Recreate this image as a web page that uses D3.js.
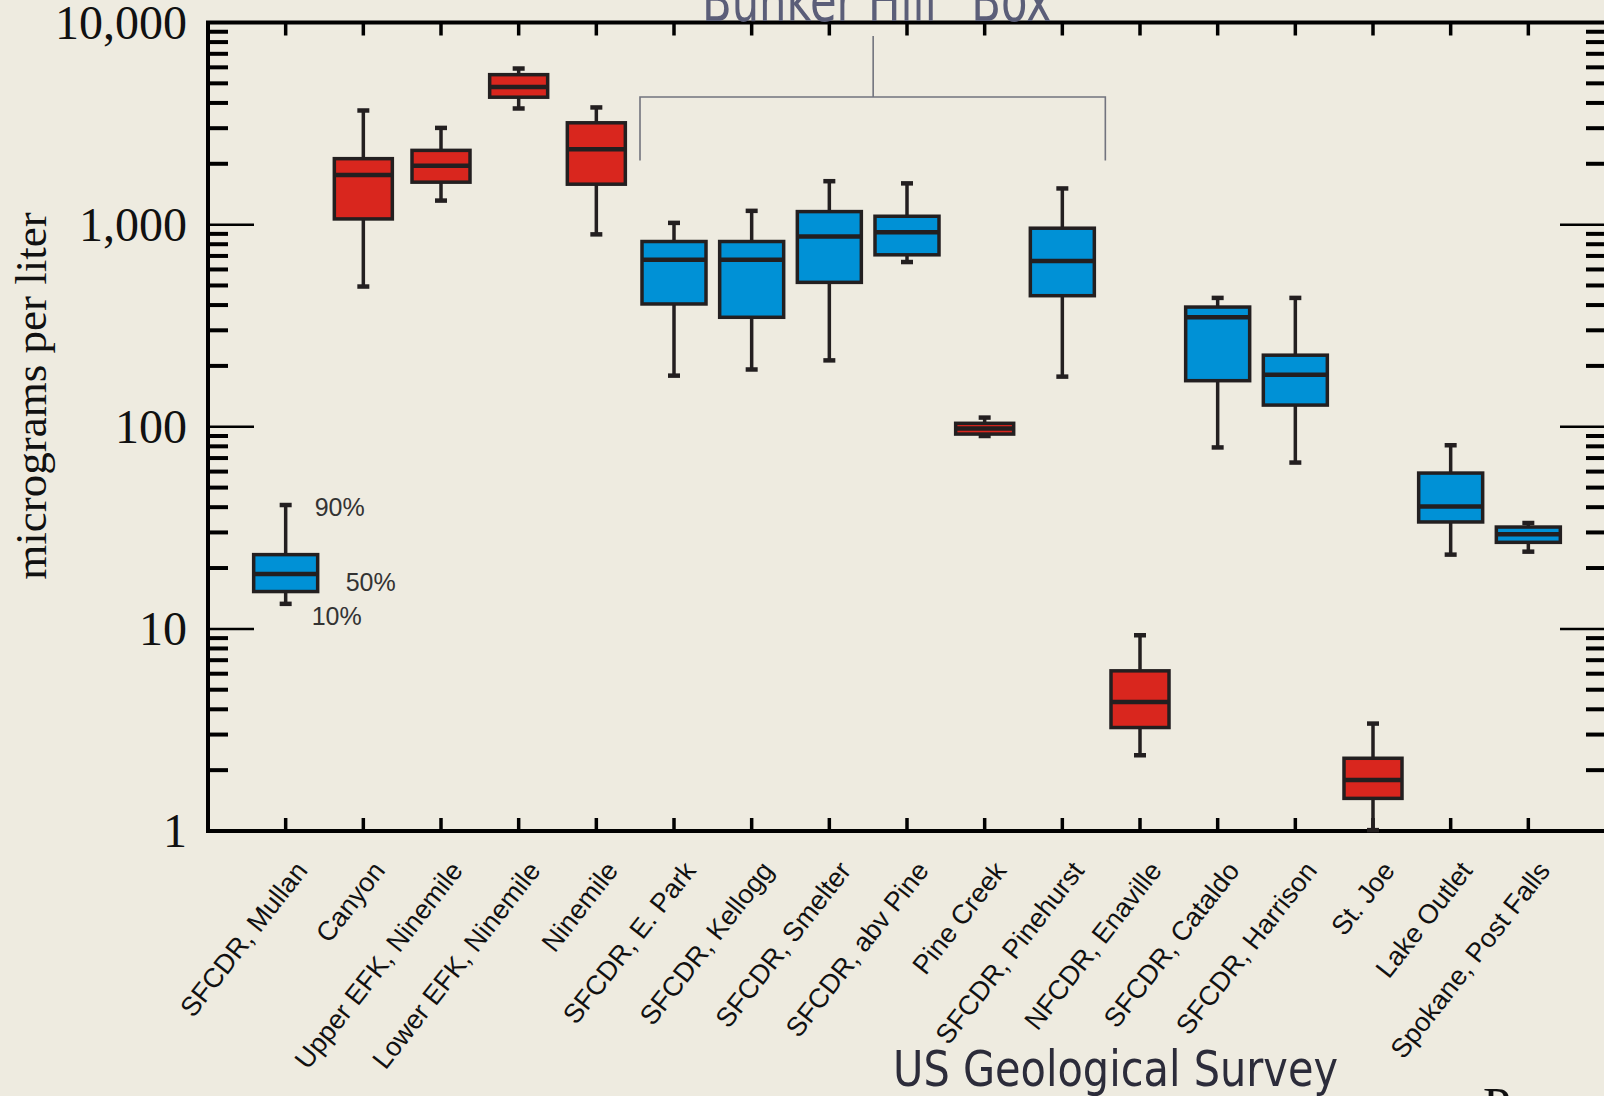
<!DOCTYPE html>
<html>
<head>
<meta charset="utf-8">
<script src="https://cdn.jsdelivr.net/npm/d3@7"></script>
<style>
  html, body { margin: 0; padding: 0; background: #eeebe0; overflow: hidden; }
  svg { display: block; }
</style>
</head>
<body>
<svg id="chart" width="1604" height="1096"></svg>
<script>
// Sampling sites, upstream to downstream
const categories = [
  "SFCDR, Mullan", "Canyon", "Upper EFK, Ninemile", "Lower EFK, Ninemile", "Ninemile",
  "SFCDR, E. Park", "SFCDR, Kellogg", "SFCDR, Smelter", "SFCDR, abv Pine", "Pine Creek",
  "SFCDR, Pinehurst", "NFCDR, Enaville", "SFCDR, Cataldo", "SFCDR, Harrison", "St. Joe",
  "Lake Outlet", "Spokane, Post Falls"
];
// "main" = main-stem river site, "trib" = tributary site
const siteType = ["main", "trib", "trib", "trib", "trib", "main", "main", "main", "main", "trib",
                  "main", "trib", "main", "main", "trib", "main", "main"];

// Percentiles, micrograms per liter
const p90 = [41,   3670, 3010, 5920, 3800, 1020, 1170, 1640, 1600, 111,  1510, 9.3,  434, 434, 3.4,  81,   33.4];
const p75 = [23.3, 2120, 2330, 5520, 3190, 825,  825,  1160, 1100, 104,  960,  6.2,  391, 226, 2.29, 59,   31.9];
const p50 = [18.7, 1760, 1955, 4800, 2360, 670,  670,  874,  916,  98,   661,  4.35, 348, 181, 1.79, 40.3, 29.4];
const p25 = [15.3, 1067, 1622, 4270, 1585, 405,  348,  518,  709,  92,   445,  3.25, 169, 128, 1.45, 33.8, 26.8];
const p10 = [13.3, 494,  1315, 3755, 895,  179,  192,  213,  653,  90,   177,  2.37, 79,  66.5, 1.01, 23.3, 24.1];

const yTickValues = [1, 10, 100, 1000, 10000];
const yTickLabels = ["1", "10", "100", "1,000", "10,000"];

const rows = categories.map((name, i) => ({
  name, type: siteType[i], lo: p10[i], q1: p25[i], med: p50[i], q3: p75[i], hi: p90[i]
}));

const svg = d3.select("#chart");
const W = 1604, H = 1096;
const plotL = 208, plotR = 1606, plotT = 22.5, plotB = 831;

const x = d3.scalePoint().domain(categories).range([plotL, plotR]).padding(1);
const y = d3.scaleLog().domain([1, 10000]).range([plotB, plotT]);

const ink = "#231f20";
const fill = { main: "#0091d6", trib: "#d9261e" };
const boxW = { main: 64, trib: 58 };

svg.append("rect").attr("width", W).attr("height", H).attr("fill", "#eeebe0");

// Minor log ticks (2..9 in each decade) and decade ticks on both vertical axes
const minor = [];
for (let d = 1; d < 10000; d *= 10) for (let k = 2; k <= 9; k++) minor.push(d * k);
const decades = [10, 100, 1000];

const gTicks = svg.append("g");
[{ x0: plotL, dir: 1 }, { x0: plotR, dir: -1 }].forEach(side => {
  gTicks.selectAll(null).data(minor).join("line")
    .attr("x1", side.x0).attr("x2", side.x0 + side.dir * 20)
    .attr("y1", d => y(d)).attr("y2", d => y(d))
    .attr("stroke", "#000").attr("stroke-width", 4);
  gTicks.selectAll(null).data(decades).join("line")
    .attr("x1", side.x0).attr("x2", side.x0 + side.dir * 46)
    .attr("y1", d => y(d)).attr("y2", d => y(d))
    .attr("stroke", "#000").attr("stroke-width", 2.5);
});

// Category ticks on top and bottom axes
gTicks.selectAll(null).data(categories).join("line")
  .attr("x1", d => x(d)).attr("x2", d => x(d))
  .attr("y1", plotB).attr("y2", plotB - 13)
  .attr("stroke", "#000").attr("stroke-width", 3.5);
gTicks.selectAll(null).data(categories).join("line")
  .attr("x1", d => x(d)).attr("x2", d => x(d))
  .attr("y1", plotT).attr("y2", plotT + 13)
  .attr("stroke", "#000").attr("stroke-width", 3.5);

// Frame
svg.append("path")
  .attr("d", `M${plotR + 5},${plotT}H${plotL}V${plotB}H${plotR + 5}`)
  .attr("fill", "none").attr("stroke", "#000").attr("stroke-width", 4);
svg.append("line").attr("x1", plotR).attr("x2", plotR).attr("y1", plotT).attr("y2", plotB)
  .attr("stroke", "#000").attr("stroke-width", 4);

// Y axis labels
const yAxis = d3.axisLeft(y).tickValues(yTickValues)
  .tickFormat((d, i) => yTickLabels[i]).tickSize(0).tickPadding(21);
const gy = svg.append("g").attr("transform", `translate(${plotL},0)`).call(yAxis);
gy.select(".domain").remove();
gy.selectAll("text")
  .attr("font-family", "'Liberation Serif', 'Times New Roman', serif")
  .attr("font-size", 48).attr("fill", "#111").attr("dy", "0.33em");

svg.append("text")
  .attr("transform", "translate(46,396) rotate(-90)")
  .attr("text-anchor", "middle")
  .attr("font-family", "'Liberation Serif', 'Times New Roman', serif")
  .attr("font-size", 45).attr("fill", "#111")
  .text("micrograms per liter");

// X category labels, rotated
svg.append("g").selectAll("text").data(categories).join("text")
  .attr("transform", d => `translate(${x(d) + 23},${plotB + 40}) rotate(-52)`)
  .attr("text-anchor", "end")
  .attr("font-family", "'Liberation Sans', Arial, sans-serif")
  .attr("font-size", 27).attr("fill", "#111")
  .text(d => d);

// Boxes
const gBox = svg.append("g");
const site = gBox.selectAll("g").data(rows).join("g");

site.append("line")
  .attr("x1", d => x(d.name)).attr("x2", d => x(d.name))
  .attr("y1", d => y(d.hi)).attr("y2", d => y(d.lo))
  .attr("stroke", ink).attr("stroke-width", 3.5);
site.append("line")
  .attr("x1", d => x(d.name) - 6).attr("x2", d => x(d.name) + 6)
  .attr("y1", d => y(d.hi)).attr("y2", d => y(d.hi))
  .attr("stroke", ink).attr("stroke-width", 4.5);
site.append("line")
  .attr("x1", d => x(d.name) - 6).attr("x2", d => x(d.name) + 6)
  .attr("y1", d => y(d.lo)).attr("y2", d => y(d.lo))
  .attr("stroke", ink).attr("stroke-width", 4.5);
site.append("rect")
  .attr("x", d => x(d.name) - boxW[d.type] / 2)
  .attr("width", d => boxW[d.type])
  .attr("y", d => y(d.q3))
  .attr("height", d => y(d.q1) - y(d.q3))
  .attr("fill", d => fill[d.type])
  .attr("stroke", ink).attr("stroke-width", 3.5);
site.append("line")
  .attr("x1", d => x(d.name) - boxW[d.type] / 2).attr("x2", d => x(d.name) + boxW[d.type] / 2)
  .attr("y1", d => y(d.med)).attr("y2", d => y(d.med))
  .attr("stroke", ink).attr("stroke-width", 4.5);

// Percentile key beside the first box
const key = rows[0];
const keyFont = "'Liberation Sans', Arial, sans-serif";
[["90%", key.hi, 29, 11], ["50%", key.med, 60, 17], ["10%", key.lo, 26, 21]].forEach(([t, v, dx, dy]) => {
  svg.append("text")
    .attr("x", x(key.name) + dx).attr("y", y(v) + dy)
    .attr("font-family", keyFont).attr("font-size", 25).attr("fill", "#333")
    .text(t);
});

// Bunker Hill "Box" bracket over the sites inside the box
const bx1 = x("SFCDR, E. Park") - 34, bx2 = x("SFCDR, Pinehurst") + 43;
const bracketY = 97, bracketEnd = 160.5;
const bmid = (x("SFCDR, Smelter") + x("SFCDR, abv Pine")) / 2 + 5;
svg.append("path")
  .attr("d", `M${bx1},${bracketEnd}V${bracketY}H${bx2}V${bracketEnd}M${bmid},${bracketY}V${36}`)
  .attr("fill", "none").attr("stroke", "#72747e").attr("stroke-width", 1.6);
svg.append("text")
  .attr("x", 702).attr("y", 21)
  .attr("font-family", "'Liberation Sans Narrow', 'DejaVu Sans Condensed', sans-serif")
  .attr("font-size", 58).attr("fill", "#5b5e78")
  .attr("textLength", 372).attr("lengthAdjust", "spacingAndGlyphs")
  .text("Bunker Hill \u201CBox\u201D");

// Credit
svg.append("text")
  .attr("x", 893).attr("y", 1086)
  .attr("font-family", "'Liberation Sans Narrow', 'DejaVu Sans Condensed', sans-serif")
  .attr("font-size", 50).attr("fill", "#2c2c3a")
  .attr("textLength", 445).attr("lengthAdjust", "spacingAndGlyphs")
  .text("US Geological Survey");

svg.append("text")
  .attr("x", 1483).attr("y", 1122)
  .attr("font-family", "'Liberation Serif', 'Times New Roman', serif")
  .attr("font-size", 50).attr("fill", "#111")
  .text("P");
</script>
</body>
</html>
